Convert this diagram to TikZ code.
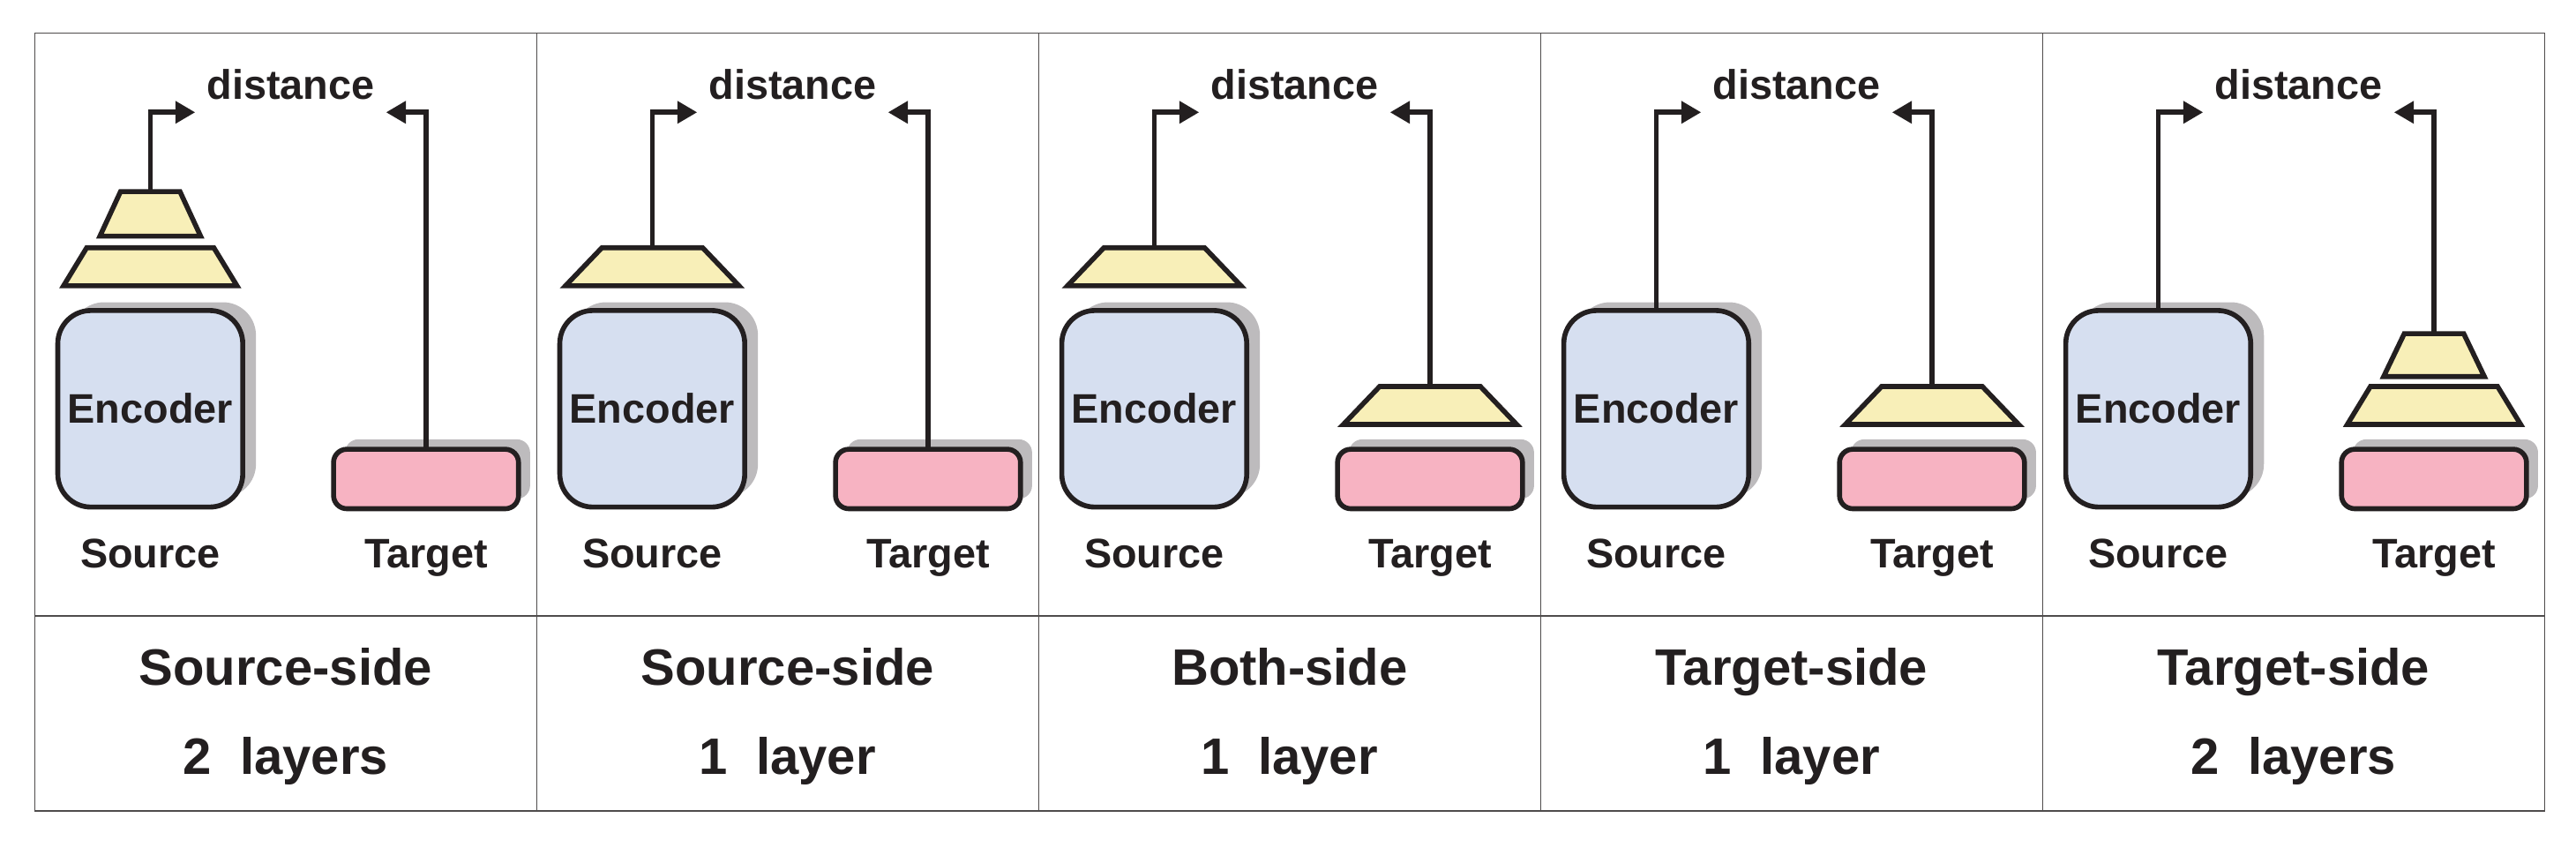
\documentclass[tikz,border=0pt]{standalone}
\usepackage{fontspec}
\setmainfont{Liberation Sans}
\usetikzlibrary{positioning,arrows.meta}
\definecolor{ink}{HTML}{231F20}
\definecolor{encfill}{HTML}{D6DFF0}
\definecolor{tgtfill}{HTML}{F7B3C2}
\definecolor{trapfill}{HTML}{F8EFB8}
\definecolor{shade}{HTML}{BDBBBD}
\tikzset{
  encoder/.style={draw=ink, fill=encfill, line width=1.5pt, rounded corners=10pt,
    minimum width=56pt, minimum height=59.5pt, inner sep=0pt, font=\bfseries\fontsize{12.5}{13}\selectfont, text=ink},
  target/.style={draw=ink, fill=tgtfill, line width=1.5pt, rounded corners=4pt,
    minimum width=56pt, minimum height=18pt, inner sep=0pt},
  shadow/.style={fill=shade, draw=none},
  trap/.style={draw=ink, fill=trapfill, line width=1.5pt, line join=miter},
  label/.style={font=\bfseries\fontsize{12.5}{13}\selectfont, text=ink, anchor=base},
  caption/.style={font=\bfseries\fontsize{15.5}{17}\selectfont, text=ink, anchor=base},
  link/.style={draw=ink, line width=1.5pt, -{Triangle[length=6pt,width=6.5pt]}}
}
% trapezium: centre x, bottom y, bottom width, top width, top y
\newcommand{\trap}[5]{%
  \draw[trap] (#1-#3/2,#2) -- (#1+#3/2,#2) -- (#1+#4/2,#5) -- (#1-#4/2,#5) -- cycle;}
\begin{document}
\begin{tikzpicture}[x=0.5pt,y=-0.5pt]
\useasboundingbox (0,0) rectangle (1560,513);
% frame
\draw[ink!80,line width=0.4pt] (21,20) rectangle (1541,491);
\draw[ink!80,line width=0.4pt] (21,373) -- (1541,373);
\foreach \k in {1,...,4}
  \draw[ink!80,line width=0.4pt] (21+304*\k,20) -- (21+304*\k,491);
% panels: index / source layers / target layers / caption / layers text
\foreach \i/\s/\t/\cap/\lay in {0/2/0/Source-side/2\ \ layers,1/1/0/Source-side/1\ \ layer,
    2/1/1/Both-side/1\ \ layer,3/0/1/Target-side/1\ \ layer,4/0/2/Target-side/2\ \ layers}{
  \pgfmathsetmacro{\sx}{91+304*\i}
  \pgfmathsetmacro{\tx}{258+304*\i}
  \pgfmathsetmacro{\cx}{173+304*\i}
  % source encoder
  \fill[shadow,rounded corners=10pt] (\sx-48,183) rectangle (\sx+64,301);
  \node[encoder] (enc\i) at (\sx,247.5) {Encoder};
  \node[label] (src\i) at (\sx,344) {Source};
  % target box
  \fill[shadow,rounded corners=4pt] (\tx-49,266) rectangle (\tx+63,302);
  \node[target] (tgt\i) at (\tx,290) {};
  \node[label] (tlab\i) at (\tx,344) {Target};
  % source layers
  \ifnum\s>0 \trap{\sx}{173}{105}{\ifnum\s=2 77\else 61\fi}{150}\fi
  \ifnum\s=2 \trap{\sx}{143}{61}{36}{116}\fi
  \coordinate (stop\i) at (\sx,{\s==0 ? 188 : (\s==1 ? 150 : 116)});
  % target layers
  \ifnum\t>0 \trap{\tx}{257}{105}{\ifnum\t=2 77\else 61\fi}{234}\fi
  \ifnum\t=2 \trap{\tx}{228}{61}{36}{202}\fi
  \coordinate (ttop\i) at (\tx,{\t==0 ? 272 : (\t==1 ? 234 : 202)});
  % distance
  \node[label] (dist\i) at (\cx+3,60) {distance};
  \draw[link] (stop\i) |- ([yshift=-4pt]dist\i.base west);
  \draw[link] (ttop\i) |- ([yshift=-4pt]dist\i.base east);
  % captions
  \node[caption] (cap\i) at (\cx,415) {\cap};
  \node[caption] (lay\i) at (\cx,469) {\lay};
}
\end{tikzpicture}
\end{document}
